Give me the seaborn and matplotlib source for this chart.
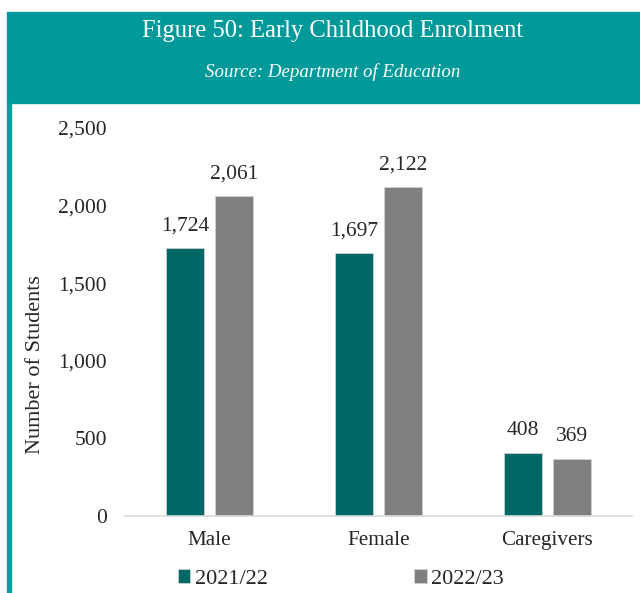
import pandas as pd
import seaborn as sns
from matplotlib import pyplot as plt
from matplotlib.patches import Rectangle

categories = ["Male", "Female", "Caregivers"]
years = ["2021/22", "2022/23"]
values_2122 = [1724, 1697, 408]
values_2223 = [2061, 2122, 369]
y_ticks = [0, 500, 1000, 1500, 2000, 2500]

df = pd.DataFrame({
    "Category": categories * 2,
    "Year": [years[0]] * 3 + [years[1]] * 3,
    "Students": values_2122 + values_2223,
})

sns.set_style("white")
plt.rcParams["font.family"] = ["Liberation Serif", "DejaVu Serif"]

fig = plt.figure(figsize=(6.4, 5.93), dpi=100)
W, H = 640, 593

# header band and left border
fig.patches.append(Rectangle((7 / W, 1 - 103 / H), 633 / W, 91 / H,
                             transform=fig.transFigure, color="#009999", zorder=0))
fig.patches.append(Rectangle((7 / W, 0), 4 / W, 1 - 103 / H,
                             transform=fig.transFigure, color="#00A0A0", zorder=0))
fig.text(333 / W, 1 - 31 / H, "Figure 50: Early Childhood Enrolment", color="white",
         fontsize=17.7, ha="center", va="center")
fig.text(333 / W, 1 - 72 / H, "Source: Department of Education", color="white",
         fontsize=13.6, style="italic", ha="center", va="center")

ax = fig.add_axes([125 / W, 1 - 516 / H, 507 / W, 388 / H])
sns.barplot(data=df, x="Category", y="Students", hue="Year", ax=ax,
            palette=["#006666", "#808080"], saturation=1, width=0.58, gap=0.21,
            edgecolor="#d0d0d0", linewidth=0.6, legend=True)

for cont in ax.containers:
    ax.bar_label(cont, labels=[f"{v:,.0f}" for v in cont.datavalues],
                 padding=9, fontsize=15.5)

ax.set_ylim(0, 2500)
ax.set_xlim(-0.5, 2.5)
ax.set_yticks(y_ticks)
ax.set_yticklabels([f"{t:,}" for t in y_ticks], fontsize=15.5)
ax.tick_params(axis="x", labelsize=15.2, pad=11, length=0)
ax.tick_params(axis="y", length=0, pad=13)
ax.set_xlabel("")
ax.set_ylabel("Number of Students", fontsize=16)
ax.yaxis.set_label_coords(-0.157, 1 - (365 - 128) / 388, transform=ax.transAxes)
for side in ["top", "right", "left"]:
    ax.spines[side].set_visible(False)
ax.spines["bottom"].set_color("#d9d9d9")
ax.spines["bottom"].set_linewidth(1.2)

ax.legend(loc="center", bbox_to_anchor=(341 / W, 1 - 579 / H), bbox_transform=fig.transFigure,
          ncol=2, frameon=False, fontsize=16, handlelength=0.55, handleheight=0.55,
          handletextpad=0.2, columnspacing=6.6, borderpad=0)

fig.savefig("out.png", dpi=100)
